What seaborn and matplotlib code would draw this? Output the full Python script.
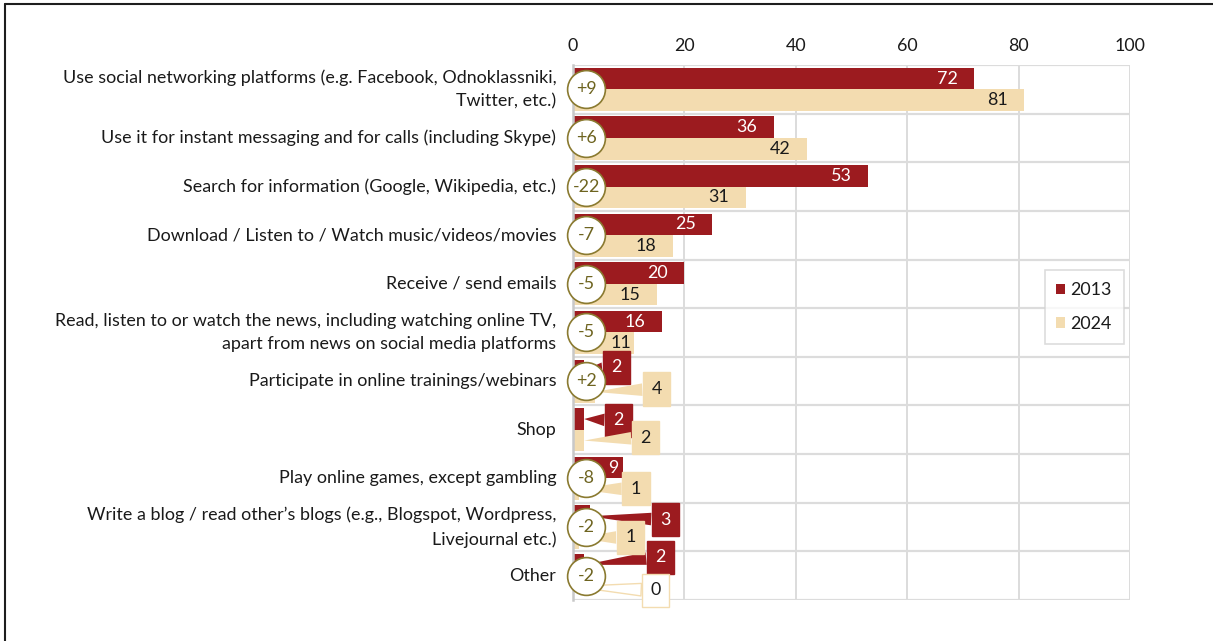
import numpy as np
import pandas as pd
import matplotlib
matplotlib.use("Agg")
import matplotlib.pyplot as plt
from matplotlib.lines import Line2D
from matplotlib.patches import Patch
import seaborn as sns

# ---- data -------------------------------------------------------------
categories = [
    "Use social networking platforms (e.g. Facebook, Odnoklassniki,\nTwitter, etc.)",
    "Use it for instant messaging and for calls (including Skype)",
    "Search for information (Google, Wikipedia, etc.)",
    "Download / Listen to / Watch music/videos/movies",
    "Receive / send emails",
    "Read, listen to or watch the news, including watching online TV,\napart from news on social media platforms",
    "Participate in online trainings/webinars",
    "Shop",
    "Play online games, except gambling",
    "Write a blog / read other\u2019s blogs (e.g., Blogspot, Wordpress,\nLivejournal etc.)",
    "Other",
]
years = ["2013", "2024"]
values_2013 = [72, 36, 53, 25, 20, 16, 2, 2, 9, 3, 2]
values_2024 = [81, 42, 31, 18, 15, 11, 4, 2, 1, 1, 0]
x_ticks = [0, 20, 40, 60, 80, 100]

# ---- styling ----------------------------------------------------------
RED = "#9c1b1f"
BEIGE = "#f3dcb0"
OLIVE_TXT = "#6e6420"
OLIVE_EDGE = "#8a7a30"
GRID = "#dcdcdc"
TXT = "#1a1a1a"
FS = 12.9

sns.set_theme(style="white")
plt.rcParams["font.family"] = ["Lato", "DejaVu Sans"]

df = pd.DataFrame({
    "category": categories * 2,
    "year": [years[0]] * len(categories) + [years[1]] * len(categories),
    "value": values_2013 + values_2024,
})

fig = plt.figure(figsize=(12.13, 6.41), dpi=100)
ax = fig.add_axes([573 / 1213, 1 - 600 / 641, 557 / 1213, 535 / 641])

sns.barplot(data=df, x="value", y="category", hue="year", orient="h",
            palette=[RED, BEIGE], saturation=1, width=0.886, linewidth=0,
            legend=False, ax=ax, zorder=2)

ax.set_xlim(0, 100)
ax.set_ylim(len(categories) - 0.5, -0.5)
ax.set_xlabel("")
ax.set_ylabel("")

# axis on top, no tick marks
ax.xaxis.tick_top()
ax.set_xticks(x_ticks)
ax.set_xticklabels([str(t) for t in x_ticks], fontsize=FS, color=TXT)
ax.tick_params(axis="x", length=0, pad=8)

# category labels, with row separators as minor ticks/grid
ax.set_yticks(range(len(categories)))
ax.set_yticklabels(categories, fontsize=FS, color=TXT)
for lab in ax.get_yticklabels():
    lab.set_linespacing(1.6)
    lab.set_verticalalignment("center")
ax.tick_params(axis="y", which="major", length=0, pad=12)
ax.set_yticks(np.arange(-0.5, len(categories) + 0.5, 1), minor=True)
ax.tick_params(axis="y", which="minor", length=4, width=1.3, color="#c8c8c8")

ax.grid(axis="x", which="major", color=GRID, lw=1.4, zorder=0)
ax.grid(axis="y", which="minor", color=GRID, lw=1.6, zorder=0)
ax.grid(axis="y", which="major", visible=False)
ax.set_axisbelow(True)
for side in ["top", "right", "bottom"]:
    ax.spines[side].set_visible(False)
ax.spines["left"].set_color("#c8c8c8")
ax.spines["left"].set_linewidth(1.8)

# ---- value labels -----------------------------------------------------
# small values are shown in callout boxes: (box x, y shift from bar centre)
callouts = {
    (6, "2013"): (7.8, -0.06),
    (6, "2024"): (15.0, -0.06),
    (7, "2013"): (8.2, 0.03),
    (7, "2024"): (13.0, -0.06),
    (8, "2024"): (11.3, -0.01),
    (9, "2013"): (16.6, 0.07),
    (9, "2024"): (10.3, -0.01),
    (10, "2013"): (15.7, -0.16),
    (10, "2024"): (14.8, 0.08),
}
inside_shift = {(8, "2013"): -10, (5, "2024"): -13}

for container, year, fill, tcol in zip(ax.containers, years,
                                       [RED, BEIGE], ["white", TXT]):
    for i, bar in enumerate(container.patches):
        val = bar.get_width()
        yc = bar.get_y() + bar.get_height() / 2
        label = f"{val:.0f}"
        if (i, year) in callouts:
            bx, dy = callouts[(i, year)]
            face = fill if val > 0 else "white"
            edge = fill if val > 0 else BEIGE
            ax.annotate(label, xy=(val, yc), xytext=(bx, yc + dy),
                        textcoords="data", ha="center", va="center",
                        fontsize=FS, color=tcol, zorder=4,
                        bbox=dict(boxstyle="square,pad=0.48", fc=face,
                                  ec=edge, lw=1),
                        arrowprops=dict(arrowstyle="wedge,tail_width=0.7",
                                        fc=face, ec=edge,
                                        lw=1 if val == 0 else 0,
                                        shrinkA=0, shrinkB=0),
                        annotation_clip=False)
        else:
            shift = inside_shift.get((i, year), -27)
            ax.annotate(label, xy=(val, yc), xytext=(shift * 0.72, 0),
                        textcoords="offset points", ha="center",
                        va="center", fontsize=FS, color=tcol, zorder=4)

# ---- change circles ---------------------------------------------------
diffs = [b - a for a, b in zip(values_2013, values_2024)]
rows = [i for i, d in enumerate(diffs) if d != 0]
ax.scatter([2.35] * len(rows), rows, s=740, facecolor="white",
           edgecolor=OLIVE_EDGE, linewidth=1.2, zorder=6, clip_on=False)
for i in rows:
    d = diffs[i]
    ax.text(2.35, i, f"+{d}" if d > 0 else f"-{abs(d)}", ha="center",
            va="center", fontsize=FS, color=OLIVE_TXT, zorder=7)

# ---- legend -----------------------------------------------------------
handles = [Patch(facecolor=RED, edgecolor="none"),
           Patch(facecolor=BEIGE, edgecolor="none")]
leg = fig.legend(handles, years, loc="center",
                 bbox_to_anchor=(1084 / 1213, 1 - 307 / 641),
                 fontsize=FS, frameon=True, fancybox=False,
                 handlelength=0.5, handleheight=0.5, handletextpad=0.3,
                 labelspacing=1.0, borderpad=0.65, borderaxespad=0)
leg.get_frame().set_edgecolor("#d4d4d4")
leg.get_frame().set_linewidth(1.2)
for t in leg.get_texts():
    t.set_color(TXT)

# ---- outer frame (top and left edges) ---------------------------------
fig.add_artist(Line2D([5 / 1213, 1], [1 - 3.5 / 641, 1 - 3.5 / 641],
                      transform=fig.transFigure, color="#1e1e1e", lw=1.5))
fig.add_artist(Line2D([5 / 1213, 5 / 1213], [0, 1 - 3.5 / 641],
                      transform=fig.transFigure, color="#1e1e1e", lw=1.5))

fig.savefig("out.png", dpi=100)
